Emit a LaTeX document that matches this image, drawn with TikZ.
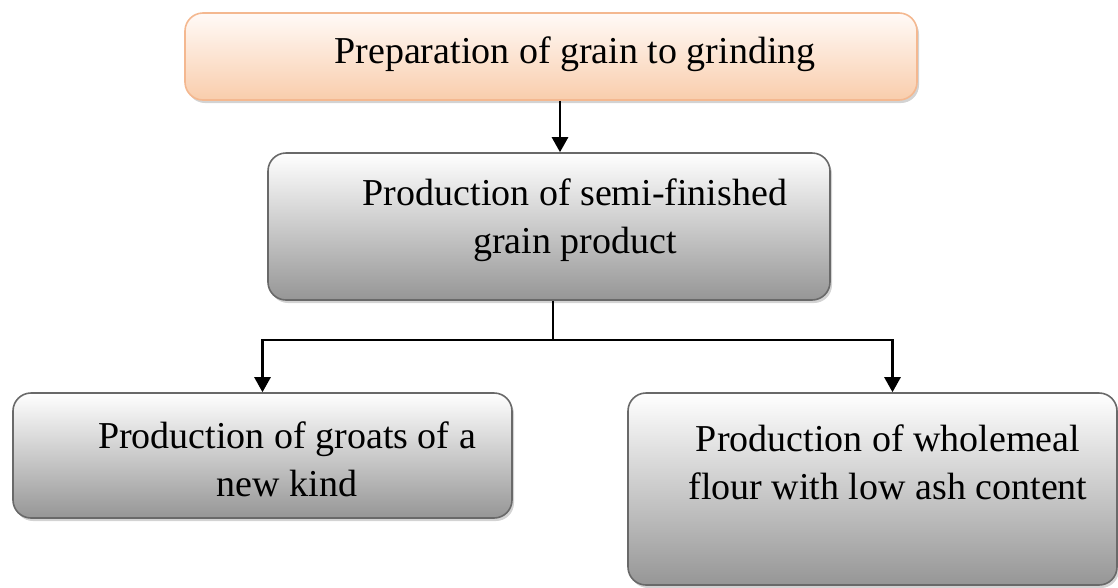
\documentclass[tikz,border=0pt]{standalone}
\usepackage{fontspec}
\setmainfont{Liberation Serif}
\usepackage{xcolor}
\usetikzlibrary{arrows.meta,shadows}

\definecolor{peachtop}{RGB}{255,250,247}
\definecolor{peachbot}{RGB}{249,205,172}
\definecolor{peachline}{RGB}{244,184,144}
\definecolor{graybot}{RGB}{150,150,150}
\definecolor{grayline}{RGB}{105,105,105}

\begin{document}
\begin{tikzpicture}[x=1pt,y=-1pt,
    stagebox/.style={draw=grayline, line width=1.6pt, rounded corners=18pt,
      top color=white, bottom color=graybot,
      drop shadow={shadow xshift=2pt, shadow yshift=-3pt, opacity=0.35}},
    prepbox/.style={stagebox, draw=peachline, top color=peachtop, bottom color=peachbot},
    stagetext/.style={align=center, inner sep=0pt, font=\fontsize{38}{48}\selectfont},
    flow/.style={line width=2.6pt, -{Triangle[width=16pt,length=15pt]}}]
    \useasboundingbox (0,0) rectangle (1118,587);

    % boxes
    \node[prepbox, minimum width=732pt, minimum height=87pt] (prep) at (551,56.5) {};
    \node[stagebox, minimum width=562pt, minimum height=147pt] (semi) at (549,226.5) {};
    \node[stagebox, minimum width=499pt, minimum height=125pt] (groats) at (262.5,455.5) {};
    \node[stagebox, minimum width=489pt, minimum height=192pt] (flour) at (872.5,489) {};

    % texts
    \node[stagetext] (preptext) at (575,54) {Preparation of grain to grinding};
    \node[stagetext] (semitext) at (575,220) {Production of semi-finished\\grain product};
    \node[stagetext] (groatstext) at (287,459) {Production of groats of a\\new kind};
    \node[stagetext] (flourtext) at (888,462) {Production of wholemeal\\flour with low ash content};

    % connectors
    \coordinate (split) at (553,340);
    \draw[flow] ([xshift=9pt]prep.south) -- ([xshift=9pt]prep.south |- semi.north);
    \draw[line width=2.6pt] (split |- semi.south) -- (split);
    \draw[flow] (split) -| (groats.north);
    \draw[flow] (split) -| ([xshift=20pt]flour.north);
\end{tikzpicture}
\end{document}
